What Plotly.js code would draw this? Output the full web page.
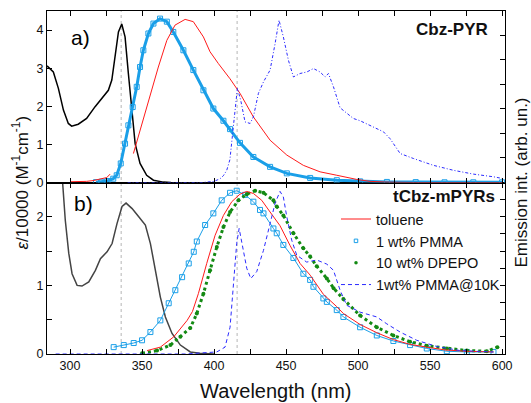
<!DOCTYPE html>
<html><head><meta charset="utf-8">
<script src="https://cdn.plot.ly/plotly-3.0.1.min.js"></script>
<style>html,body{margin:0;padding:0;background:#fff}#chart{width:531px;height:403px}</style>
</head><body><div id="chart"></div><script>
// ---------- x ticks ----------
const xTickVals = [300,325,350,375,400,425,450,475,500,525,550,575,600];
const xTickText = ['300','','350','','400','','450','','500','','550','','600'];
const guideLines = [335.5, 416];

// ---------- panel a) Cbz-PYR ----------
const absA_wl = [284,288.4,291.9,295.4,298.8,301.1,305.7,311.5,317.4,323.1,326.6,329,331.2,333.6,335.9,338.2,340.5,342.9,345.2,348.6,353.2,357.9,364.8,370];
const absA_v  = [3.06,2.9,2.47,1.9,1.55,1.48,1.53,1.68,1.99,2.25,2.42,2.69,3.3,3.95,4.16,3.82,2.86,1.85,1.02,0.5,0.19,0.06,0.01,0];

const tolA_wl = [300,305,311.5,316,320.8,325.5,327.8,null,344,348.6,354.4,361.3,367.2,372.9,379.9,385.6,392.6,397.2,403,411.1,418,427.3,438.9,450.5,462,473.6,485.2,499.1,508.3,520,540,570,600];
const tolA_v  = [0.02,0.02,0.03,0.05,0.09,0.13,0.22,null,0.76,1.37,2.16,3.03,3.73,4.13,4.28,4.22,3.82,3.43,3.12,2.72,2.34,1.72,1.11,0.72,0.45,0.28,0.19,0.08,0.03,0.01,0,0,0];

const pmmaA_wl = [318,322,326,330,332.4,335.2,338.2,340.5,343.5,346.3,348.6,350.9,354.4,357.9,362.5,367.2,371.7,378.7,385.6,392.6,399.5,406.5,411.1,418,427.3,438.9,450.5,466.7,485.2,501.4,520,540,560,580,600];
const pmmaA_v  = [0.01,0.02,0.04,0.1,0.19,0.5,1.02,1.5,1.98,2.51,3.03,3.47,3.91,4.17,4.30,4.22,3.95,3.47,2.95,2.42,1.94,1.62,1.4,1.04,0.67,0.41,0.24,0.12,0.06,0.03,0.015,0.01,0.005,0.005,0.005];

const lowTA_wl = [340,360,392,400,404.2,406.5,408.8,411,412.3,414.6,416.2,418.5,421.5,425,427.3,430.8,434.3,438.9,442.4,445.1,448.1,451.6,455.1,459.7,464.4,469,473.6,477.1,479.4,482.9,487.5,492.2,496.7,501.4,508.3,517.6,522.2,529.2,538.4,552.3,566.2,580.1,594,601];
const lowTA_v  = [0,0,0,0.03,0.1,0.18,0.32,0.6,1.02,1.9,2.47,2.16,1.59,1.55,1.72,2.34,2.64,2.95,3.65,4.26,3.82,3.21,2.77,2.86,2.90,2.99,2.90,2.77,2.86,2.51,1.96,1.81,1.68,1.62,1.50,1.33,1.15,0.76,0.63,0.45,0.32,0.22,0.15,0.1];

// ---------- panel b) tCbz-mPYRs ----------
const absB_wl = [292,294.7,296.7,299.1,301.4,304.9,308.3,313,317.6,321.1,325.7,329.2,332.6,336.1,338.9,343.1,347.7,352.3,355.8,359.2,362.7,366.2,370.8,376.6,383.5,390,400];
const absB_v  = [3.05,2.54,1.95,1.47,1.17,1.0,0.99,1.05,1.22,1.39,1.49,1.61,1.9,2.15,2.2,2.12,2.0,1.88,1.61,1.22,0.83,0.54,0.30,0.13,0.03,0.01,0];

const tolB_wl = [353.5,362.7,372,381.3,385,389.1,394.9,400.7,406.5,412.3,418,422.7,427.3,433.1,438.9,445.8,452.8,459.7,466.7,475.9,485.2,489.8,501.4,513,524.5,536.1,547.7,560,575,594];
const tolB_v  = [0.05,0.10,0.25,0.49,0.62,0.88,1.32,1.73,2.02,2.22,2.33,2.37,2.34,2.24,2.07,1.87,1.58,1.32,1.15,0.87,0.69,0.59,0.43,0.31,0.21,0.14,0.10,0.06,0.04,0.03];

const pmmaB_wl = [330.3,337.3,344.2,350,355.8,362.7,368.5,373.1,377.8,382.4,385.9,388,393.8,399.5,405.3,411.1,415.7,421.5,427.3,431.9,434.3,441.2,443.5,448.1,455.1,462,466.7,469,475.9,478.3,485.2,489.8,501.4,513,524.5,536.1,547.7,561.6,575.5,594];
const pmmaB_v  = [0.10,0.13,0.16,0.20,0.32,0.49,0.74,0.93,1.12,1.32,1.49,1.64,1.88,2.05,2.24,2.35,2.38,2.32,2.22,2.10,2.05,1.83,1.76,1.59,1.40,1.17,1.08,0.98,0.81,0.76,0.64,0.54,0.39,0.27,0.19,0.13,0.08,0.04,0.03,0.03];

const dpepoB_wl = [350,360.4,369.7,376.6,383.5,388,392.6,397.2,401.9,406.5,411.1,416.9,422.7,428.5,434.3,441.2,443.5,448.1,455.1,462,466.7,471.3,478.3,483,489.8,501.4,513,524.5,536.1,547.7,561.6,575.5,589.4,596.7];
const dpepoB_v  = [0.01,0.05,0.13,0.25,0.38,0.59,0.88,1.22,1.56,1.85,2.07,2.24,2.33,2.38,2.35,2.24,2.15,2.02,1.76,1.54,1.42,1.28,1.10,0.96,0.80,0.56,0.39,0.27,0.18,0.12,0.08,0.05,0.04,0.10];

const lowTB_wl = [290,380,401.9,407.6,411.1,413.9,415.7,417.4,419.9,422.7,425.5,429.6,434.3,438.9,442.4,445.8,448.1,450.5,453.9,457.4,464.3,471.3,478.3,482.9,487.5,492.1,501.4,513,519.9,529.2,540.7,554.6,570.8,594];
const lowTB_v  = [0,0,0.03,0.10,0.39,1.08,1.61,1.83,1.56,1.25,1.10,1.20,1.51,1.90,2.20,2.37,2.29,2.0,1.66,1.44,1.34,1.37,1.31,1.22,0.93,0.71,0.61,0.54,0.44,0.32,0.20,0.11,0.05,0.03];

const seriesNames = ['toluene','1 wt% PMMA','10 wt% DPEPO','1wt% PMMA@10K'];

// ---------- styles ----------
const FONT = 'Liberation Sans, Arial, sans-serif';
const RED = '#ff1a1a', CYAN = '#1a9fe8', GREEN = '#138a13', BLUE = '#2b2bff';

const traces = [
  // panel a
  {x: absA_wl, y: absA_v, xaxis:'x2', yaxis:'y2', mode:'lines', line:{color:'#000', width:1.5}, showlegend:false},
  {x: pmmaA_wl, y: pmmaA_v, xaxis:'x2', yaxis:'y4', mode:'lines+markers', line:{color:CYAN, width:3},
   marker:{symbol:'square-open', size:5, color:CYAN, line:{width:1}}, showlegend:false},
  {x: tolA_wl, y: tolA_v, xaxis:'x2', yaxis:'y4', mode:'lines', line:{color:RED, width:1}, connectgaps:false, showlegend:false},
  {x: lowTA_wl, y: lowTA_v, xaxis:'x2', yaxis:'y4', mode:'lines', line:{color:BLUE, width:1, dash:'3px,2px,1px,2px'}, showlegend:false},
  // panel b
  {x: absB_wl, y: absB_v, xaxis:'x', yaxis:'y', mode:'lines', line:{color:'#444', width:1.5}, showlegend:false},
  {x: pmmaB_wl, y: pmmaB_v, xaxis:'x', yaxis:'y3', mode:'lines+markers', line:{color:CYAN, width:1},
   marker:{symbol:'square-open', size:5, color:CYAN, line:{width:1}}, showlegend:false},
  {x: dpepoB_wl, y: dpepoB_v, xaxis:'x', yaxis:'y3', mode:'lines+markers', line:{color:GREEN, width:3, dash:'dot'},
   marker:{symbol:'circle', size:4, color:GREEN}, showlegend:false},
  {x: tolB_wl, y: tolB_v, xaxis:'x', yaxis:'y3', mode:'lines', line:{color:RED, width:1}, name:seriesNames[0], legendrank:1},
  {x: lowTB_wl, y: lowTB_v, xaxis:'x', yaxis:'y3', mode:'lines', line:{color:BLUE, width:1, dash:'4px,3px'}, name:seriesNames[3], legendrank:4},
  // legend entries for marker series
  {x:[null], y:[null], xaxis:'x', yaxis:'y3', mode:'markers', marker:{symbol:'square-open', size:3.5, color:CYAN, line:{width:1}}, name:seriesNames[1], legendrank:2},
  {x:[null], y:[null], xaxis:'x', yaxis:'y3', mode:'markers', marker:{symbol:'circle', size:3.5, color:GREEN}, name:seriesNames[2], legendrank:3}
];

const xCommon = {range:[284,602], tickvals:xTickVals, ticktext:xTickText, ticks:'inside', ticklen:5, tickwidth:1,
  tickcolor:'#000', showline:true, linecolor:'#000', linewidth:1, mirror:'ticks', showgrid:false, zeroline:false,
  tickfont:{family:FONT, size:12.5, color:'#111'}};

const layout = {
  width:531, height:403,
  margin:{l:47, r:26, t:11, b:49},
  paper_bgcolor:'#fff', plot_bgcolor:'#fff',
  font:{family:FONT, color:'#000'},
  xaxis: Object.assign({}, xCommon, {anchor:'y', domain:[0,1]}),
  xaxis2: Object.assign({}, xCommon, {anchor:'y2', domain:[0,1], matches:'x', showticklabels:false}),
  yaxis: {domain:[0,0.5], anchor:'x', range:[0,2.5], tickvals:[0,0.5,1,1.5,2], ticktext:['0','','1','','2'],
    ticks:'inside', ticklen:5, tickcolor:'#000', showline:true, linecolor:'#000', mirror:true, showgrid:false, zeroline:false,
    tickfont:{family:FONT, size:12.5, color:'#111'}},
  yaxis2: {domain:[0.5,1], anchor:'x2', range:[0,4.5], tickvals:[0,1,2,3,4],
    ticks:'inside', ticklen:5, tickcolor:'#000', showline:true, linecolor:'#000', mirror:true, showgrid:false, zeroline:false,
    tickfont:{family:FONT, size:12.5, color:'#111'}},
  yaxis3: {overlaying:'y', anchor:'x', side:'right', range:[0,2.5], dtick:0.25, tick0:0, ticks:'inside', ticklen:5,
    tickcolor:'#000', showticklabels:false, showline:true, linecolor:'#000', showgrid:false, zeroline:false},
  yaxis4: {overlaying:'y2', anchor:'x2', side:'right', range:[0,4.5], dtick:0.643, tick0:0, ticks:'inside', ticklen:5,
    tickcolor:'#000', showticklabels:false, showline:true, linecolor:'#000', showgrid:false, zeroline:false},
  showlegend:true,
  legend:{x:0.631, y:0.44, xanchor:'left', yanchor:'top', bgcolor:'rgba(0,0,0,0)', borderwidth:0,
    font:{family:FONT, size:14.5, color:'#111'}, itemwidth:30, tracegroupgap:0},
  shapes: guideLines.map(v => ({type:'line', xref:'x', yref:'paper', x0:v, x1:v, y0:0, y1:1, layer:'below',
    line:{color:'#b5b5b5', width:1, dash:'dot'}})),
  annotations:[
    {text:'a)', xref:'paper', yref:'paper', x:0.048, y:0.924, xanchor:'left', yanchor:'middle', showarrow:false, font:{family:FONT, size:21, color:'#000'}},
    {text:'b)', xref:'paper', yref:'paper', x:0.055, y:0.44, xanchor:'left', yanchor:'middle', showarrow:false, font:{family:FONT, size:21, color:'#000'}},
    {text:'<b>Cbz-PYR</b>', xref:'paper', yref:'paper', x:0.967, y:0.945, xanchor:'right', yanchor:'middle', showarrow:false, font:{family:FONT, size:17, color:'#111'}},
    {text:'<b>tCbz-mPYRs</b>', xref:'paper', yref:'paper', x:0.983, y:0.458, xanchor:'right', yanchor:'middle', showarrow:false, font:{family:FONT, size:17, color:'#111'}},
    {text:'Wavelength (nm)', xref:'paper', yref:'paper', x:0.5, y:-0.108, xanchor:'center', yanchor:'middle', showarrow:false, font:{family:FONT, size:20, color:'#111'}},
    {text:'<i>ε</i>/10000 (M<sup>-1</sup>cm<sup>-1</sup>)', xref:'paper', yref:'paper', x:-0.059, y:0.5, xanchor:'center', yanchor:'middle', textangle:-90, showarrow:false, font:{family:FONT, size:17, color:'#111'}},
    {text:'Emission int. (arb. un.)', xref:'paper', yref:'paper', x:1.035, y:0.5, xanchor:'center', yanchor:'middle', textangle:-90, showarrow:false, font:{family:FONT, size:17, color:'#111'}}
  ]
};

Plotly.newPlot('chart', traces, layout, {displayModeBar:false, staticPlot:true});
</script></body></html>
